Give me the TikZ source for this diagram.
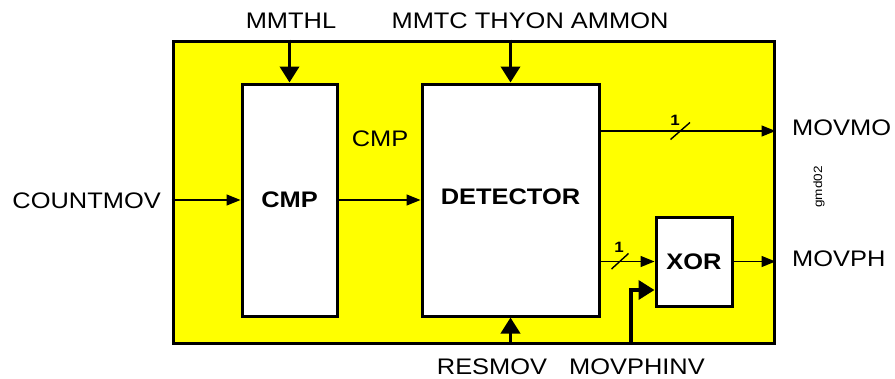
\documentclass[tikz,border=0pt]{standalone}
\usepackage{fontspec}
\setmainfont[FakeStretch=1.13]{Liberation Sans}
\usetikzlibrary{arrows.meta}
\definecolor{bgyellow}{RGB}{255,255,0}
\begin{document}
\begin{tikzpicture}[x=1pt,y=-1pt,
  lbl/.style={font=\fontsize{22.5}{27}\selectfont, inner sep=0pt, anchor=base},
  blk/.style={draw, line width=3pt, fill=white, inner sep=0pt, font=\fontsize{22.5}{27}\selectfont\bfseries},
  sig/.style={line width=1.3pt, -{Triangle[length=14pt,width=11pt]}},
  bus/.style={line width=3.7pt, -{Triangle[length=16pt,width=19pt]}},
  slashmark/.style={line width=1.4pt},
  num/.style={font=\fontsize{15}{17}\selectfont\bfseries, inner sep=0pt}]
\useasboundingbox (0,0) rectangle (895,378);
\node[draw, line width=3pt, fill=bgyellow, minimum width=601pt, minimum height=302pt, inner sep=0pt] (outer) at (473.5,192) {};
\node[blk, minimum width=95pt, minimum height=232pt] (cmp) at (289.5,200) {CMP};
\node[blk, minimum width=177pt, minimum height=232pt] (det) at (510.5,200) {};
\node[font=\fontsize{22.5}{27}\selectfont\bfseries, inner sep=0pt] (dettext) at (510.5,197) {DETECTOR};
\node[blk, minimum width=76pt, minimum height=89pt] (xor) at (694,261.5) {XOR};
% top inputs
\node[lbl] (lmmthl) at (291,28.3) {MMTHL};
\node[lbl] (lmmtc) at (530,28.3) {MMTC THYON AMMON};
\draw[bus] (cmp.north|-outer.north) -- (cmp.north);
\draw[bus] (det.north|-outer.north) -- (det.north);
% bottom inputs
\node[lbl] (lresmov) at (492,374.5) {RESMOV};
\node[lbl] (lphinv) at (637,374.5) {MOVPHINV};
\draw[bus] (det.south|-outer.south) -- (det.south);
\coordinate (pin) at (631,343.5);
\coordinate (pinc) at (631,290);
\draw[bus] (pin) -- (pinc) -- (xor.west|-pinc);
% left input
\node[lbl, anchor=base east] (lcount) at (161,208) {COUNTMOV};
\draw[sig] (outer.west|-cmp.west) -- (cmp.west);
% internal
\node[lbl] (lcmp) at (380,146) {CMP};
\draw[sig] (cmp.east) -- (det.west);
% outputs
\coordinate (mo) at (599,131);
\draw[sig] (mo) -- (outer.east|-mo);
\draw[slashmark] (670.5,139.5) -- (690,122.5);
\node[num] (n1) at (675,120) {1};
\draw[sig] (det.east|-xor.west) -- (xor.west);
\draw[slashmark] (611.5,269) -- (628.5,253.5);
\node[num] (n2) at (619,247) {1};
\draw[sig] (xor.east) -- (outer.east|-xor.east);
\node[lbl, anchor=base west] (lmovmo) at (792,135) {MOVMO};
\node[lbl, anchor=base west] (lmovph) at (792,266.5) {MOVPH};
\node[rotate=90, font=\fontsize{12}{14}\selectfont, inner sep=0pt] (gmd) at (819,187) {gmd02};
\end{tikzpicture}
\end{document}
